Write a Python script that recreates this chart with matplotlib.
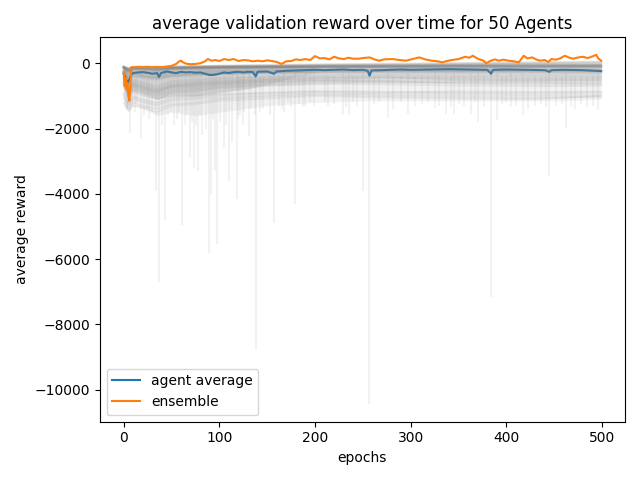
import matplotlib
matplotlib.use("Agg")
import matplotlib.pyplot as plt

checkpoints = [0, 5, 10, 20, 35, 50, 75, 100, 150, 200, 275, 350, 425, 499]

agent_rewards = [
    [-120, -200, -150, -130, -160, -120, -140, -110, -100, -90, -80, -70, -60, -50],
    [-150, -300, -180, -200, -250, -180, -160, -150, -130, -120, -100, -110, -90, -100],
    [-100, -150, -120, -110, -130, -100, -90, -80, -70, -60, -50, -40, -30, -20],
    [-250, -450, -320, -380, -420, -350, -320, -300, -280, -260, -250, -240, -250, -260],
    [-130, -250, -140, -160, -200, -150, -130, -120, -110, -100, -90, -80, -100, -90],
    [-110, -180, -130, -120, -140, -130, -110, -100, -80, -60, -40, -20, 0, 20],
    [-160, -350, -200, -250, -300, -220, -200, -180, -160, -150, -140, -130, -120, -130],
    [-140, -220, -160, -140, -170, -150, -140, -130, -120, -110, -120, -100, -110, -100],
    [-120, -260, -170, -180, -220, -160, -150, -140, -130, -120, -110, -100, -90, -80],
    [-280, -500, -360, -400, -450, -380, -350, -330, -300, -280, -270, -260, -270, -280],
    [-100, -160, -110, -100, -110, -100, -90, -70, -50, -30, -10, 10, 30, 50],
    [-150, -280, -190, -220, -260, -200, -180, -170, -150, -140, -130, -140, -130, -140],
    [-130, -200, -150, -150, -180, -140, -120, -110, -100, -90, -80, -60, -50, -40],
    [-260, -550, -380, -420, -480, -400, -360, -320, -290, -270, -260, -250, -260, -250],
    [-110, -190, -120, -130, -150, -120, -110, -100, -90, -80, -70, -60, -70, -60],
    [-220, -380, -260, -300, -340, -290, -260, -240, -220, -210, -200, -210, -200, -210],
    [-120, -240, -140, -150, -190, -140, -130, -120, -110, -100, -100, -90, -80, -90],
    [-200, -350, -250, -280, -330, -270, -250, -230, -210, -200, -190, -190, -180, -190],
    [-100, -140, -110, -110, -120, -110, -100, -90, -60, -40, -20, 0, 20, 40],
    [-240, -460, -320, -360, -420, -340, -310, -280, -260, -240, -230, -220, -210, -230],
    [-130, -230, -150, -170, -210, -160, -150, -130, -120, -110, -100, -100, -90, -100],
    [-230, -420, -300, -330, -380, -300, -270, -250, -230, -220, -210, -200, -210, -200],
    [-110, -170, -120, -120, -140, -110, -100, -90, -80, -70, -60, -50, -40, -30],
    [-150, -260, -170, -190, -230, -170, -160, -150, -140, -130, -120, -110, -120, -110],
    [-120, -210, -140, -140, -170, -130, -120, -110, -100, -90, -80, -70, -60, -70],
    [-270, -480, -340, -380, -440, -350, -320, -290, -270, -250, -240, -240, -230, -240],
    [-140, -250, -160, -180, -220, -170, -150, -140, -120, -110, -100, -90, -100, -90],
    [-100, -150, -110, -100, -120, -100, -90, -80, -70, -50, -30, -10, 10, 30],
    [-210, -390, -270, -310, -360, -290, -260, -240, -220, -210, -200, -190, -200, -190],
    [-130, -220, -150, -160, -190, -150, -130, -120, -110, -100, -90, -80, -90, -80],
    [-300, -560, -400, -450, -500, -400, -370, -340, -310, -290, -280, -270, -260, -270],
    [-120, -200, -130, -140, -160, -130, -120, -100, -90, -70, -60, -40, -20, -10],
    [-190, -340, -240, -260, -300, -240, -220, -200, -190, -180, -170, -170, -160, -170],
    [-140, -270, -180, -200, -240, -180, -160, -150, -130, -120, -110, -100, -110, -100],
    [-110, -180, -120, -130, -150, -120, -110, -100, -90, -80, -60, -50, -40, -50],
    [-400, -700, -500, -600, -700, -550, -500, -450, -400, -350, -330, -300, -320, -310],
    [-500, -800, -600, -700, -800, -650, -600, -550, -480, -420, -400, -380, -400, -390],
    [-600, -900, -700, -800, -900, -750, -700, -650, -560, -500, -470, -450, -480, -460],
    [-450, -750, -550, -650, -750, -600, -560, -500, -440, -380, -360, -340, -350, -340],
    [-700, -1000, -800, -900, -1000, -850, -800, -720, -640, -560, -540, -520, -540, -530],
    [-550, -850, -650, -750, -850, -700, -650, -600, -520, -460, -440, -420, -440, -430],
    [-650, -950, -750, -850, -950, -800, -750, -680, -600, -540, -600, -580, -600, -620],
    [-500, -820, -620, -720, -820, -680, -620, -570, -500, -440, -420, -500, -520, -500],
    [-750, -1050, -850, -950, -1100, -900, -850, -760, -680, -620, -650, -680, -700, -690],
    [-600, -880, -680, -780, -880, -720, -680, -620, -560, -500, -550, -620, -650, -640],
    [-900, -1200, -1000, -1100, -1200, -1050, -1000, -950, -900, -850, -880, -900, -920, -900],
    [-1000, -1300, -1100, -1200, -1300, -1150, -1100, -1050, -980, -920, -950, -950, -980, -970],
    [-1100, -1400, -1200, -1300, -1400, -1250, -1200, -1100, -1020, -960, -1000, -1020, -1050, -1030],
    [-950, -1250, -1050, -1150, -1250, -1100, -1050, -980, -920, -880, -900, -860, -880, -870],
    [-1200, -1450, -1300, -1350, -1500, -1300, -1250, -1150, -1080, -1000, -1050, -1080, -1100, -1000],
]

# spread of the noisy agent curves (upper edge and two lower edges)
spread_epochs = [0, 5, 10, 20, 35, 50, 75, 100, 125, 150, 200, 250, 300, 350, 400, 450, 499]
spread_upper = [-100, -120, -120, -120, -110, -100, -100, -90, -80, -70, -60, -50, -40, -30, -30, -20, -20]
spread_inner = [-900, -1100, -900, -1000, -1100, -1000, -1000, -900, -800, -700, -650, -600, -600,
                -600, -600, -600, -600]
spread_outer = [-1300, -1500, -1300, -1400, -1600, -1500, -1600, -1500, -1400, -1300, -1200, -1150,
                -1150, -1150, -1150, -1150, -1100]

# darker core of the early, unstable epochs
core_epochs = [0, 5, 10, 20, 35, 50, 75, 100, 125, 150, 175, 200]
core_upper = [-120, -150, -150, -150, -140, -130, -120, -110, -100, -100, -90, -80]
core_lower = [-700, -1000, -800, -900, -1100, -1000, -1000, -900, -800, -650, -450, -300]

# single-epoch collapses of individual agents
spike_epochs = [7, 18, 34, 37, 43, 53, 61, 69, 73, 78, 82, 89, 91, 95, 98, 105, 110, 113, 118,
                125, 131, 137, 138, 157, 168, 179, 190, 229, 235, 250, 256, 276, 297, 325, 337,
                345, 363, 370, 384, 390, 405, 417, 445, 462, 496]
spike_values = [-2140, -2290, -3910, -6700, -4800, -1880, -4950, -2900, -3200, -3300, -2200,
                -5800, -4000, -3300, -5550, -2600, -3600, -2400, -4160, -1880, -2240, -1580,
                -8800, -4900, -1480, -4300, -1300, -1580, -1580, -3900, -10450, -1690, -1540,
                -1380, -1540, -1540, -1540, -1790, -7150, -1740, -1330, -1590, -3450, -1990,
                -1430]

# smaller dips that make up the fuzz under the band
dip_epochs = [3, 5, 9, 12, 14, 21, 24, 27, 30, 40, 46, 49, 56, 58, 64, 66, 71, 76, 80, 86, 93,
              101, 107, 120, 122, 126, 133, 143, 146, 153, 162, 165, 172, 175, 183, 187, 195,
              199, 210, 214, 220, 232, 240, 244, 262, 267, 282, 290, 305, 312, 318, 330, 342,
              350, 356, 367, 377, 395, 400, 410, 423, 430, 436, 441, 452, 458, 467, 472, 478,
              484, 490]
dip_values = [-1400, -1350, -1300, -1500, -1200, -1600, -1400, -1700, -1500, -1900, -1600,
              -1500, -1700, -1500, -1900, -1600, -1800, -1900, -1600, -2000, -1700, -1800,
              -1900, -1700, -1600, -1500, -1400, -1500, -1400, -1600, -1300, -1400, -1200,
              -1350, -1250, -1350, -1200, -1300, -1200, -1300, -1250, -1350, -1200, -1300,
              -1250, -1200, -1400, -1200, -1300, -1250, -1200, -1300, -1350, -1250, -1300,
              -1200, -1350, -1250, -1200, -1300, -1400, -1300, -1250, -1350, -1300, -1250,
              -1300, -1400, -1250, -1350, -1300]

avg_epochs = [0, 2, 4, 6, 8, 10, 15, 20, 25, 30, 35, 37, 39, 45, 50, 55, 60, 65, 70, 75, 80,
              85, 90, 95, 100, 105, 110, 115, 120, 125, 130, 135, 138, 140, 150, 157, 160, 170,
              180, 190, 200, 210, 220, 230, 240, 250, 255, 257, 259, 270, 280, 290, 300, 320,
              340, 360, 380, 384, 386, 400, 420, 440, 445, 447, 460, 480, 499]
avg_values = [-320, -450, -600, -500, -350, -300, -280, -270, -290, -320, -300, -420, -300,
              -250, -280, -300, -260, -280, -270, -290, -280, -320, -360, -350, -320, -280,
              -300, -270, -260, -280, -260, -270, -400, -260, -250, -320, -250, -230, -220,
              -210, -200, -210, -200, -190, -210, -200, -230, -380, -220, -210, -200, -190,
              -200, -190, -180, -190, -200, -320, -200, -190, -200, -210, -260, -210, -200,
              -210, -240]

ens_epochs = [0, 1, 2, 3, 4, 5, 6, 7, 8, 10, 15, 20, 25, 30, 35, 40, 45, 50, 55, 58, 60, 62, 65,
              70, 75, 80, 85, 88, 92, 96, 100, 105, 110, 115, 120, 125, 130, 135, 140, 145, 150,
              155, 160, 165, 170, 175, 180, 185, 190, 195, 200, 205, 210, 215, 220, 225, 230,
              235, 240, 246, 250, 257, 262, 267, 272, 281, 288, 295, 302, 309, 315, 322, 328,
              333, 338, 343, 350, 357, 361, 365, 370, 376, 379, 383, 388, 392, 397, 402, 408,
              413, 418, 422, 427, 431, 435, 440, 444, 447, 452, 456, 461, 466, 470, 475, 480,
              485, 489, 494, 496, 499]
ens_values = [-270, -700, -450, -800, -600, -1000, -1150, -700, -120, -130, -110, -120, -110,
              -120, -110, -120, -100, -80, -20, 60, 80, 30, -10, -30, -20, 0, 60, 130, 80, 100,
              70, 130, 100, 130, 70, 100, 90, 60, 80, 60, 90, 70, 40, -20, 60, 70, 120, 100,
              130, 100, 220, 150, 160, 120, 200, 150, 130, 170, 140, 140, 160, 180, 120, 80,
              120, 130, 100, 80, 130, 180, 120, 80, 60, 30, 70, 100, 130, 200, 170, 230, 140,
              80, 0, 70, 120, 80, 110, 80, 60, 30, 230, 150, 180, 120, 80, 100, 40, 130, 110,
              150, 230, 170, 140, 180, 200, 160, 200, 260, 150, 80]

fig, ax = plt.subplots(figsize=(6.4, 4.8), dpi=100)

ax.plot(avg_epochs, avg_values, color="C0", label="agent average")

ax.fill_between(spread_epochs, spread_upper, spread_outer, color="grey", alpha=0.1, linewidth=0)
ax.fill_between(spread_epochs, spread_upper, spread_inner, color="grey", alpha=0.12, linewidth=0)
ax.fill_between(core_epochs, core_upper, core_lower, color="grey", alpha=0.15, linewidth=0)
for rewards in agent_rewards:
    ax.plot(checkpoints, rewards, color="grey", alpha=0.1)
ax.vlines(spike_epochs, spike_values, -300, color="grey", alpha=0.1, linewidth=1.5)
ax.vlines(dip_epochs, dip_values, -400, color="grey", alpha=0.1, linewidth=1.5)

ax.plot(ens_epochs, ens_values, color="C1", label="ensemble")

ax.set_title("average validation reward over time for 50 Agents")
ax.set_xlabel("epochs")
ax.set_ylabel("average reward")
ax.legend(loc="lower left")

fig.tight_layout()
fig.savefig("out.png")
